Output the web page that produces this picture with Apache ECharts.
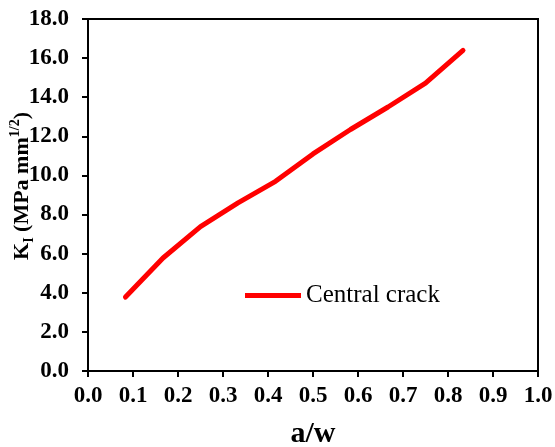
<!DOCTYPE html>
<html>
<head>
<meta charset="utf-8">
<script src="https://cdn.jsdelivr.net/npm/echarts@6/dist/echarts.min.js"></script>
<style>html,body{margin:0;padding:0;background:#fff}#c{width:555px;height:447px}</style>
</head>
<body>
<div id="c"></div>
<script>
const aw = [0.0833, 0.1667, 0.25, 0.3333, 0.4167, 0.5, 0.5833, 0.6667, 0.75, 0.8333];
const kI = [3.78, 5.78, 7.38, 8.6, 9.7, 11.1, 12.35, 13.5, 14.72, 16.4];
const seriesName = 'Central crack';
const xTitle = 'a/w';

const font = 'Liberation Serif';
const chart = echarts.init(document.getElementById('c'), null, {renderer: 'canvas'});
chart.setOption({
  animation: false,
  backgroundColor: '#fff',
  grid: {left: 88, right: 17, top: 19, bottom: 76, show: true, borderColor: '#000', borderWidth: 2, containLabel: false, outerBoundsMode: 'none'},
  legend: {
    data: [seriesName], left: 240, top: 278, itemWidth: 56, itemHeight: 5, itemGap: 4,
    icon: 'rect',
    textStyle: {fontFamily: font, fontSize: 25, color: '#000'}
  },
  xAxis: {
    type: 'value', min: 0, max: 1, interval: 0.1,
    name: xTitle, nameLocation: 'middle', nameGap: 48, nameMoveOverlap: false,
    nameTextStyle: {fontFamily: font, fontSize: 30, fontWeight: 'bold', color: '#000'},
    axisLine: {show: true, lineStyle: {color: '#000', width: 2}},
    axisTick: {show: true, inside: false, length: 6, lineStyle: {color: '#000', width: 2}},
    axisLabel: {fontFamily: font, fontSize: 23, fontWeight: 'bold', color: '#000', margin: 14, formatter: v => v.toFixed(1)},
    splitLine: {show: false}
  },
  yAxis: {
    type: 'value', min: 0, max: 18, interval: 2,
    name: '{b|K}{s|I}{b| (MPa mm}{p|1/2}{b|)}', nameLocation: 'middle', nameGap: 52, nameRotate: 90, nameMoveOverlap: false,
    nameTextStyle: {
      fontFamily: font, fontSize: 22, fontWeight: 'bold', color: '#000', padding: [0, 0, 0, 18],
      rich: {
        b: {fontFamily: font, fontSize: 22, fontWeight: 'bold', color: '#000', lineHeight: 28, verticalAlign: 'middle'},
        s: {fontFamily: font, fontSize: 14, fontWeight: 'bold', color: '#000', lineHeight: 28, verticalAlign: 'bottom'},
        p: {fontFamily: font, fontSize: 14, fontWeight: 'bold', color: '#000', lineHeight: 28, verticalAlign: 'top'}
      }
    },
    axisLine: {show: true, lineStyle: {color: '#000', width: 2}},
    axisTick: {show: true, inside: false, length: 6, lineStyle: {color: '#000', width: 2}},
    axisLabel: {fontFamily: font, fontSize: 23, fontWeight: 'bold', color: '#000', margin: 19, formatter: v => v.toFixed(1)},
    splitLine: {show: false}
  },
  series: [{
    name: seriesName, type: 'line', data: aw.map((x, i) => [x, kI[i]]),
    showSymbol: false, symbol: 'none',
    lineStyle: {color: '#ff0000', width: 5, cap: 'round', join: 'round'},
    itemStyle: {color: '#ff0000'}
  }]
});
</script>
</body>
</html>
